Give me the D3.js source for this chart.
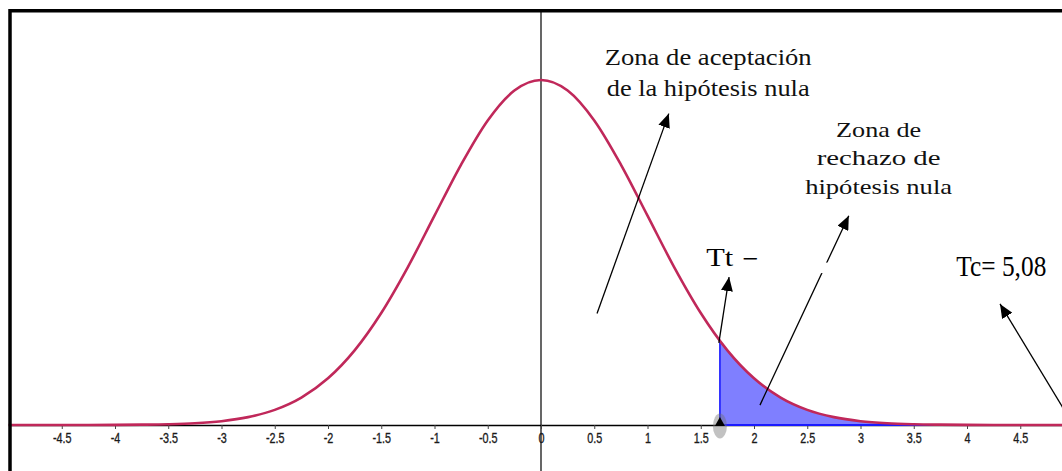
<!DOCTYPE html>
<html>
<head>
<meta charset="utf-8">
<script src="https://cdn.jsdelivr.net/npm/d3@7"></script>
<style>
  html, body { margin: 0; padding: 0; background: #fff; }
  svg { display: block; }
</style>
</head>
<body>
<svg id="chart" width="1062" height="471"></svg>
<script>
// ---- data ----
const xValues = [-5, -4.75, -4.5, -4.25, -4, -3.75, -3.5, -3.25, -3, -2.75, -2.5, -2.25, -2, -1.75, -1.5, -1.25, -1, -0.75, -0.5, -0.25,
  0, 0.25, 0.5, 0.75, 1, 1.25, 1.5, 1.75, 2, 2.25, 2.5, 2.75, 3, 3.25, 3.5, 3.75, 4, 4.25, 4.5, 4.75, 5];
const densityValues = [0, 0, 0, 0, 0.0001, 0.0004, 0.0009, 0.002, 0.0044, 0.0091, 0.0175, 0.0317, 0.054, 0.0863, 0.1295, 0.1826, 0.242, 0.3011, 0.3521, 0.3867,
  0.3989, 0.3867, 0.3521, 0.3011, 0.242, 0.1826, 0.1295, 0.0863, 0.054, 0.0317, 0.0175, 0.0091, 0.0044, 0.002, 0.0009, 0.0004, 0.0001, 0, 0, 0, 0];
const tCritical = 1.68;
const tCriticalDensity = 0.097;
const tickValues = [-4.5, -4, -3.5, -3, -2.5, -2, -1.5, -1, -0.5, 0, 0.5, 1, 1.5, 2, 2.5, 3, 3.5, 4, 4.5];
const tickLabels = ["-4.5", "-4", "-3.5", "-3", "-2.5", "-2", "-1.5", "-1", "-0.5", "0", "0.5", "1", "1.5", "2", "2.5", "3", "3.5", "4", "4.5"];
const acceptLines = ["Zona de aceptación", "de la hipótesis nula"];
const rejectLines = ["Zona de", "rechazo de", "hipótesis nula"];
const ttLabel = "Tt";
const ttSign = "=";
const tcLabel = "Tc= 5,08";

// ---- layout ----
const W = 1062, H = 471;
const svg = d3.select("#chart");
const x = d3.scaleLinear().domain([-5, 5]).range([8.5, 1073.5]);
const y = d3.scaleLinear().domain([0, 0.4]).range([425, 79]);

const points = xValues.map((v, i) => ({ x: v, d: densityValues[i] }));
const tail = [{ x: tCritical, d: tCriticalDensity }].concat(points.filter(p => p.x > tCritical));

// fit a text horizontally to a target width by scaling around its anchor
function fitText(sel, targetWidth, anchorX) {
  sel.each(function () {
    const w = this.getComputedTextLength();
    const s = targetWidth / w;
    d3.select(this).attr("transform", `translate(${anchorX},0) scale(${s},1) translate(${-anchorX},0)`);
  });
}

// vertical axis at x = 0
svg.append("line")
  .attr("x1", x(0)).attr("x2", x(0))
  .attr("y1", 10).attr("y2", H)
  .attr("stroke", "#000").attr("stroke-width", 1.2);

// x axis
const fmt = d => tickLabels[tickValues.indexOf(d)];
const axis = svg.append("g")
  .attr("transform", `translate(0,${y(0)})`)
  .call(d3.axisBottom(x).tickValues(tickValues).tickFormat(fmt).tickSize(4).tickSizeOuter(0))
  .attr("font-size", 15)
  .attr("font-family", "'Liberation Sans', Arial, sans-serif");
axis.select(".domain").attr("stroke", "#000").attr("stroke-width", 1.6);
axis.selectAll(".tick line").attr("stroke", "#444").attr("stroke-width", 1);
axis.selectAll(".tick text")
  .attr("y", 18.5)
  .attr("dy", 0)
  .attr("transform", "scale(0.72,1)")
  .attr("fill", "#1a1a1a")
  .attr("stroke", "#1a1a1a")
  .attr("stroke-width", 0.35);

// shaded rejection area
const area = d3.area().x(p => x(p.x)).y0(y(0)).y1(p => y(p.d)).curve(d3.curveMonotoneX);
svg.append("path").datum(tail)
  .attr("d", area)
  .attr("fill", "rgba(0,0,255,0.5)");
svg.append("line")
  .attr("x1", x(tCritical)).attr("x2", x(tCritical))
  .attr("y1", y(0)).attr("y2", y(tCriticalDensity))
  .attr("stroke", "#1a1aff").attr("stroke-width", 1.6);
svg.append("line")
  .attr("x1", x(tCritical)).attr("x2", W)
  .attr("y1", y(0)).attr("y2", y(0))
  .attr("stroke", "#1a1aff").attr("stroke-width", 1.8);

// density curve
const line = d3.line().x(p => x(p.x)).y(p => y(p.d)).curve(d3.curveMonotoneX);
svg.append("path").datum(points)
  .attr("d", line)
  .attr("fill", "none")
  .attr("stroke", "#c0285a")
  .attr("stroke-width", 2.6);

// marker at the critical value
svg.append("ellipse")
  .attr("cx", x(tCritical)).attr("cy", y(0) + 1)
  .attr("rx", 7).attr("ry", 12.5)
  .attr("fill", "rgba(110,110,110,0.42)");
svg.append("path")
  .attr("d", `M${x(tCritical)},${y(0) - 8} L${x(tCritical) - 5},${y(0) + 1} L${x(tCritical) + 5},${y(0) + 1} Z`)
  .attr("fill", "#000");

// arrows
svg.append("defs").append("marker")
  .attr("id", "head")
  .attr("markerUnits", "userSpaceOnUse")
  .attr("viewBox", "0 -6 14 12")
  .attr("refX", 14).attr("refY", 0)
  .attr("markerWidth", 14).attr("markerHeight", 12)
  .attr("orient", "auto")
  .append("path").attr("d", "M0,-6L14,0L0,6Z").attr("fill", "#000");

const arrows = [
  { from: [0.526, 0.129], to: [1.2, 0.36] },
  { from: [2.056, 0.023], to: [2.89, 0.242] },
  { from: [1.67, 0.095], to: [1.766, 0.171] },
  { from: [4.95, 0.01], to: [4.31, 0.14] }
];
svg.selectAll("line.arrow").data(arrows).enter().append("line")
  .attr("class", "arrow")
  .attr("x1", a => x(a.from[0])).attr("y1", a => y(a.from[1]))
  .attr("x2", a => x(a.to[0])).attr("y2", a => y(a.to[1]))
  .attr("stroke", "#000").attr("stroke-width", 1.3)
  .attr("marker-end", "url(#head)");

// texts
const serif = "'Liberation Serif', 'Times New Roman', serif";
const acceptWidths = [207, 203];
svg.selectAll("text.acc").data(acceptLines).enter().append("text")
  .attr("class", "acc")
  .attr("x", x(1.57)).attr("y", (d, i) => y(0.416) + i * 31)
  .attr("text-anchor", "middle")
  .style("font-family", serif).style("font-size", "23.5px").attr("fill", "#111")
  .text(d => d)
  .each(function (d, i) { fitText(d3.select(this), acceptWidths[i], x(1.57)); });

const rejectWidths = [85, 124, 147];
svg.selectAll("text.rej").data(rejectLines).enter().append("text")
  .attr("class", "rej")
  .attr("x", x(3.17)).attr("y", (d, i) => y(0.333) + i * 28.5)
  .attr("text-anchor", "middle")
  .style("font-family", serif).style("font-size", "21.5px").attr("fill", "#111")
  .text(d => d)
  .each(function (d, i) { fitText(d3.select(this), rejectWidths[i], x(3.17)); });

svg.append("text")
  .attr("x", x(1.552)).attr("y", y(0.184))
  .style("font-family", serif).style("font-size", "25px").attr("fill", "#000")
  .text(ttLabel)
  .call(s => fitText(s, 27, x(1.552)));
svg.append("text")
  .attr("x", x(1.89)).attr("y", y(0.184) + 5)
  .style("font-family", serif).style("font-size", "27px").attr("fill", "#000")
  .text(ttSign)
  .call(s => fitText(s, 16, x(1.89)));
// white patch that hides the lower stroke of "=" and breaks the arrow
svg.append("rect")
  .attr("x", x(1.87)).attr("y", y(0.1895) + 1.5)
  .attr("width", 90).attr("height", 10.5)
  .attr("fill", "#fff");

svg.append("text")
  .attr("x", x(3.9)).attr("y", y(0.173) + 1)
  .style("font-family", serif).style("font-size", "29px").attr("fill", "#000")
  .text(tcLabel)
  .call(s => fitText(s, 90, x(3.9)));

// frame
svg.append("path")
  .attr("d", `M10,${H} V10.75 H${W}`)
  .attr("fill", "none").attr("stroke", "#000").attr("stroke-width", 3.5);
</script>
</body>
</html>
